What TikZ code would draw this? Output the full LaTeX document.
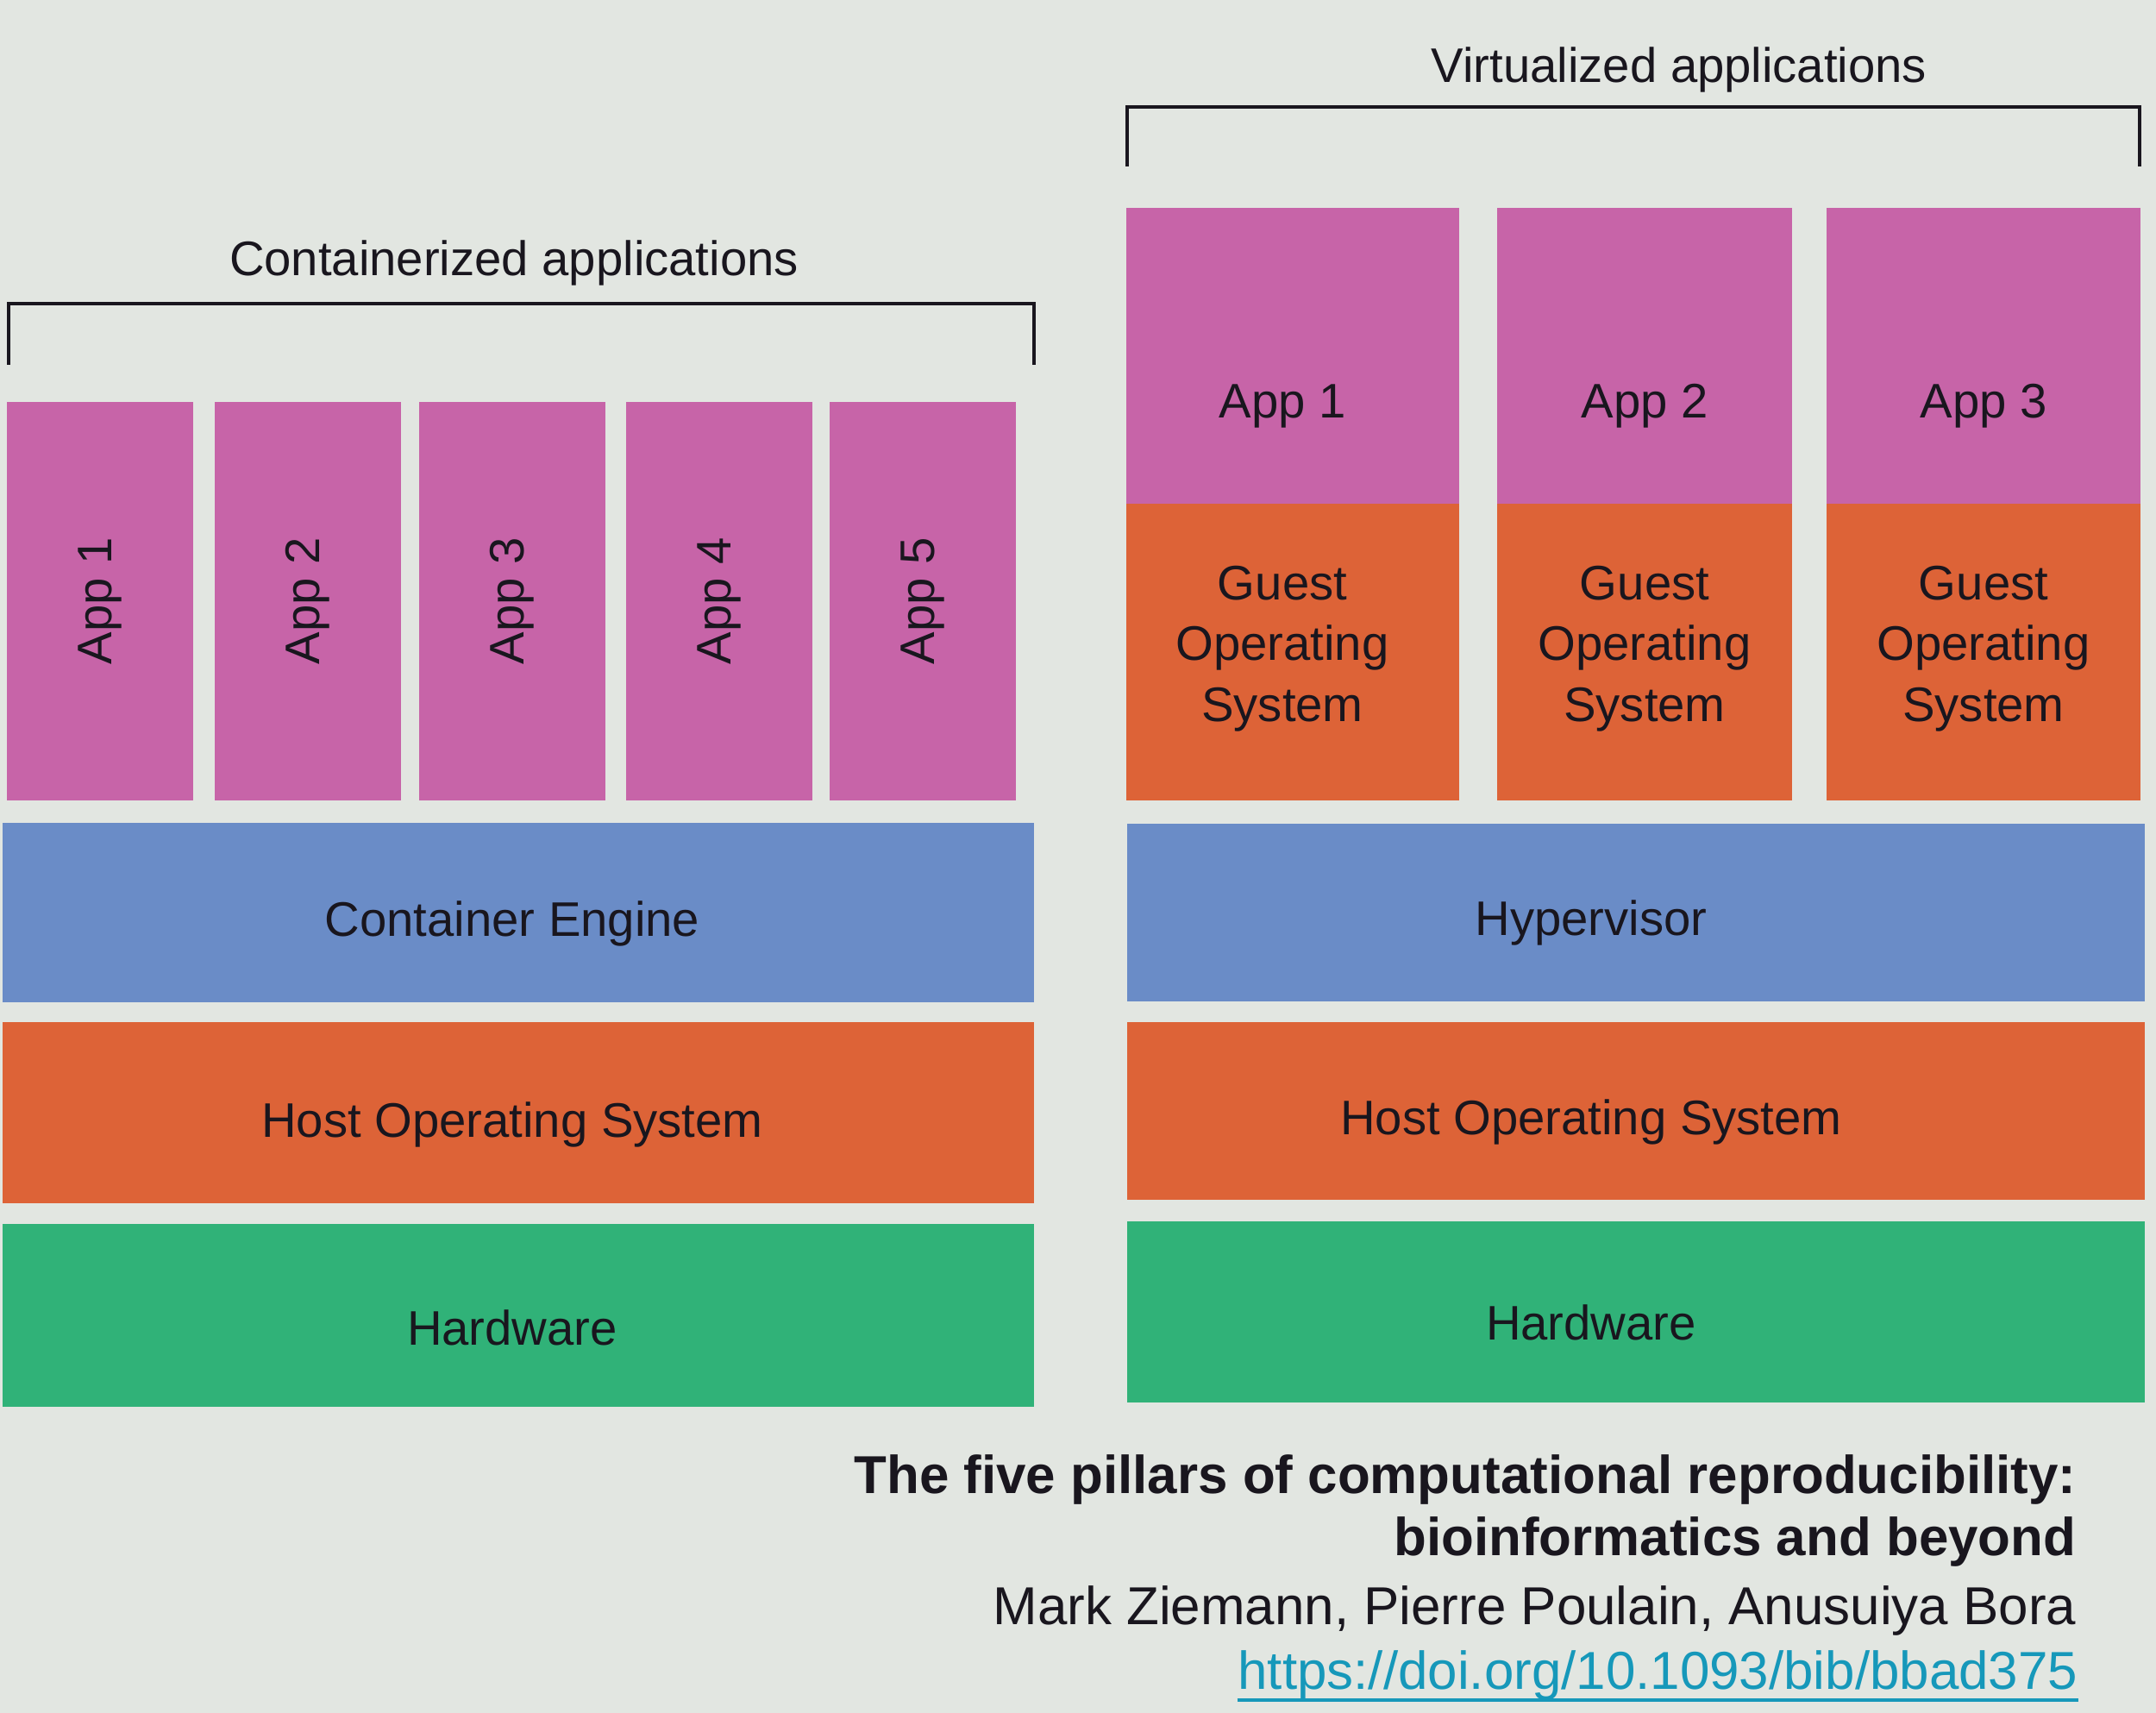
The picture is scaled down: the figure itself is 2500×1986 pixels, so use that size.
\documentclass[tikz,border=0pt]{standalone}
\usepackage{fontspec}
\setmainfont{Liberation Sans}
\usepackage{xcolor}
\usepackage{tikz}
\usetikzlibrary{positioning}
\definecolor{bggray}{RGB}{226, 230, 225}
\definecolor{apppink}{RGB}{199, 100, 168}
\definecolor{osorange}{RGB}{221, 99, 55}
\definecolor{engblue}{RGB}{106, 140, 199}
\definecolor{hwgreen}{RGB}{48, 178, 120}
\definecolor{linkteal}{RGB}{22, 152, 186}
\definecolor{inkdark}{RGB}{25, 22, 30}
\newcommand{\lblsize}{\fontsize{16pt}{20pt}\selectfont}
\newcommand{\refsize}{\fontsize{17.6pt}{21pt}\selectfont}
\tikzset{
  blk/.style={fill=#1, draw=none, inner sep=0pt, text=inkdark,
              font=\lblsize, align=center},
  txt/.style={text=inkdark, font=\lblsize, align=center, inner sep=0pt},
  brk/.style={draw=inkdark, line width=1.3pt},
  reftxt/.style={text=inkdark, font=\refsize, inner sep=0pt, anchor=base east},
}

\begin{document}
\begin{tikzpicture}[x=0.01cm, y=-0.01cm]
  \fill[bggray] (0,0) rectangle (2500,1986);
  \useasboundingbox (0,0) rectangle (2500,1986);
  % containerized stack
  \node[txt, anchor=base] (ctitle) at (596,320) {Containerized applications};
  \draw[brk] (10,423) |- (1199,352) -- (1199,423);
  \foreach \i/\cx in {1/116, 2/357, 3/594, 4/834, 5/1070}
    \node[blk=apppink, rotate=90, minimum width=4.61cm, minimum height=2.16cm]
      (capp\i) at (\cx,697) {App \i};
  \node[blk=engblue, minimum width=11.96cm, minimum height=2.07cm]
    (engine) at (601,1058) {};
  \node[txt] (enginelbl) at (594,1071) {Container Engine};
  \node[blk=osorange, minimum width=11.96cm, minimum height=2.09cm]
    (chost) at (601,1290) {};
  \node[txt] (chostlbl) at (594,1304) {Host Operating System};
  \node[blk=hwgreen, minimum width=11.96cm, minimum height=2.12cm]
    (chw) at (601,1525) {};
  \node[txt] (chwlbl) at (594,1539) {Hardware};
  % virtualized stack
  \node[txt, anchor=base] (vtitle) at (1947,96) {Virtualized applications};
  \draw[brk] (1307,193) |- (2481,124) -- (2481,193);
  \foreach \i/\cx/\w/\dx in {1/1499/3.85/-0.12, 2/1907/3.42/0, 3/2300/3.63/0} {
    \node[blk=apppink, minimum width=\w cm, minimum height=3.44cm]
      (vapp\i) at (\cx,413) {};
    \node[txt] (vapplbl\i) at ([xshift=\dx cm, yshift=-0.58cm]vapp\i.center) {App \i};
    \node[blk=osorange, minimum width=\w cm, minimum height=3.43cm]
      (guest\i) at (\cx,756) {};
    \node[txt] (guestlbl\i) at ([xshift=\dx cm, yshift=0.04cm]guest\i.center)
      {Guest\\Operating\\System};
  }
  \node[blk=engblue, minimum width=11.80cm, minimum height=2.06cm]
    (hyper) at (1897,1058) {};
  \node[txt] (hyperlbl) at (1845,1070) {Hypervisor};
  \node[blk=osorange, minimum width=11.80cm, minimum height=2.05cm]
    (vhost) at (1897,1288) {};
  \node[txt] (vhostlbl) at (1845,1301) {Host Operating System};
  \node[blk=hwgreen, minimum width=11.80cm, minimum height=2.10cm]
    (vhw) at (1897,1521) {};
  \node[txt] (vhwlbl) at (1845,1533) {Hardware};
  % reference
  \node[reftxt, font=\refsize\bfseries] (ref1) at (2408,1731)
    {The five pillars of computational reproducibility:};
  \node[reftxt, font=\refsize\bfseries] (ref2) at (2408,1803)
    {bioinformatics and beyond};
  \node[reftxt] (ref3) at (2408,1883) {Mark Ziemann, Pierre Poulain, Anusuiya Bora};
  \node[reftxt, text=linkteal] (ref4) at (2410,1958)
    {https://doi.org/10.1093/bib/bbad375};
  \draw[linkteal, line width=1.4pt] ([yshift=-0.13cm]ref4.base west)
    -- ([yshift=-0.13cm]ref4.base east);
\end{tikzpicture}
\end{document}
